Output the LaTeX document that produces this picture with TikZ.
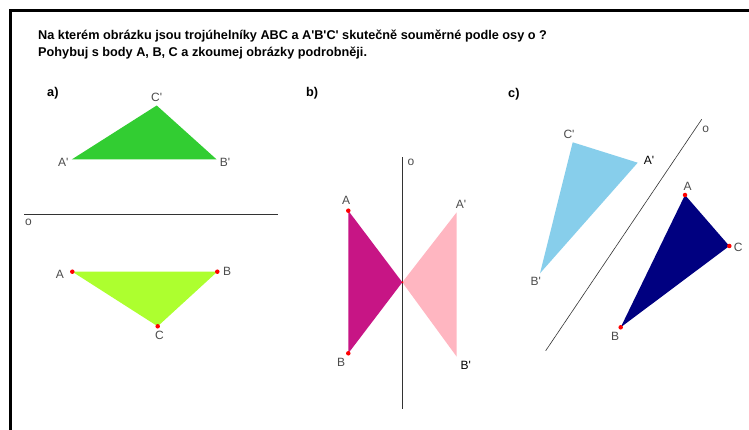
\documentclass[tikz,border=0pt]{standalone}
\usepackage{fontspec}
\setmainfont{Liberation Sans}[Ligatures=TeXOff]
\begin{document}
\begin{tikzpicture}[x=1pt,y=-1pt,
  lbl/.style={font=\fontsize{12}{14}\selectfont, text=black!70, inner sep=0pt},
  lblk/.style={font=\fontsize{12}{14}\selectfont, text=black, inner sep=0pt},
  head/.style={font=\bfseries\fontsize{12.7}{15}\selectfont, inner sep=0pt, anchor=west},
  axis/.style={draw=black!80, line width=0.8pt},
  pt/.style={circle, fill=red, inner sep=0pt, minimum size=4.5pt},
  ptsmall/.style={circle, fill=red, inner sep=0pt, minimum size=2pt}]
\useasboundingbox (0,0) rectangle (749,430);
\fill[white] (0,0) rectangle (749,430);
% frame
\draw[line width=3pt] (10.5,440) -- (10.5,11) -- (760,11);
% heading
\node[head] (t1) at (38,36) {Na kterém obrázku jsou trojúhelníky ABC a A'B'C' skutečně souměrné podle osy o ?};
\node[head] (t2) at (38,53) {Pohybuj s body A, B, C a zkoumej obrázky podrobněji.};
% panel labels
\node[head] (la) at (47,93) {a)};
\node[head] (lb) at (306,93) {b)};
\node[head] (lc) at (508,94) {c)};

% ===== panel a =====
\coordinate (aAp) at (71.7,159.5);
\coordinate (aBp) at (216.7,159.5);
\coordinate (aCp) at (156.7,105.5);
\fill[fill={rgb,255:red,50;green,205;blue,50}] (aAp) -- (aBp) -- (aCp) -- cycle;
\coordinate (aA) at (72.3,271.7);
\coordinate (aB) at (217.3,271.7);
\coordinate (aC) at (157.7,326.3);
\fill[fill={rgb,255:red,173;green,255;blue,47}] (aA) -- (aB) -- (aC) -- cycle;
\coordinate (oa1) at (24,214.3);
\coordinate (oa2) at (277.7,214.3);
\draw[axis] (oa1) -- (oa2);
\node[lbl] (oal) at (28.5,222.5) {o};
\node[pt] (paA) at (aA) {};
\node[pt] (paB) at (aB) {};
\node[pt] (paC) at (aC) {};
\node[lbl] (laAp) at (63.3,162.7) {A'};
\node[lbl] (laBp) at (225,162.7) {B'};
\node[lbl] (laCp) at (156.7,97) {C'};
\node[lbl] (laA) at (60,274) {A};
\node[lbl] (laB) at (227,271.5) {B};
\node[lbl] (laC) at (159.5,335.5) {C};

% ===== panel b =====
\coordinate (bA) at (348.3,210.7);
\coordinate (bB) at (348.3,353.3);
\coordinate (bC) at (402.3,282.3);
\coordinate (bAp) at (456.7,212.3);
\coordinate (bBp) at (456.7,356.7);
\fill[fill={rgb,255:red,255;green,182;blue,193}] (bAp) -- (bBp) -- (bC) -- cycle;
\fill[fill={rgb,255:red,199;green,21;blue,133}] (bA) -- (bB) -- (bC) -- cycle;
\coordinate (ob1) at (402.3,157.3);
\coordinate (ob2) at (402.3,409.3);
\draw[axis] (ob1) -- (ob2);
\node[lbl] (obl) at (411,162.7) {o};
\node[pt] (pbA) at (bA) {};
\node[pt] (pbB) at (bB) {};
\node[ptsmall] (pbC) at (bC) {};
\node[lbl] (lbA) at (346,200.5) {A};
\node[lbl] (lbB) at (341,362.7) {B};
\node[lbl] (lbAp) at (461,204) {A'};
\node[lblk] (lbBp) at (465.7,365.5) {B'};

% ===== panel c =====
\coordinate (cCp) at (572.7,142.3);
\coordinate (cAp) at (637.7,162.7);
\coordinate (cBp) at (540,273.3);
\fill[fill={rgb,255:red,135;green,206;blue,235}] (cAp) -- (cBp) -- (cCp) -- cycle;
\coordinate (cA) at (685,195);
\coordinate (cC) at (729.3,246);
\coordinate (cB) at (620.7,327.3);
\fill[fill={rgb,255:red,0;green,0;blue,128}] (cA) -- (cB) -- (cC) -- cycle;
\coordinate (oc1) at (545.7,350.7);
\coordinate (oc2) at (701.7,119.3);
\draw[axis, line width=0.6pt] (oc1) -- (oc2);
\node[lbl] (ocl) at (705.7,129) {o};
\node[pt] (pcA) at (cA) {};
\node[pt] (pcB) at (cB) {};
\node[pt] (pcC) at (cC) {};
\node[lbl] (lcCp) at (569,134.3) {C'};
\node[lblk] (lcAp) at (649,160) {A'};
\node[lbl] (lcBp) at (535.7,281.7) {B'};
\node[lbl] (lcA) at (687.7,186) {A};
\node[lbl] (lcC) at (738.3,247.3) {C};
\node[lbl] (lcB) at (615,336.7) {B};
\end{tikzpicture}
\end{document}
